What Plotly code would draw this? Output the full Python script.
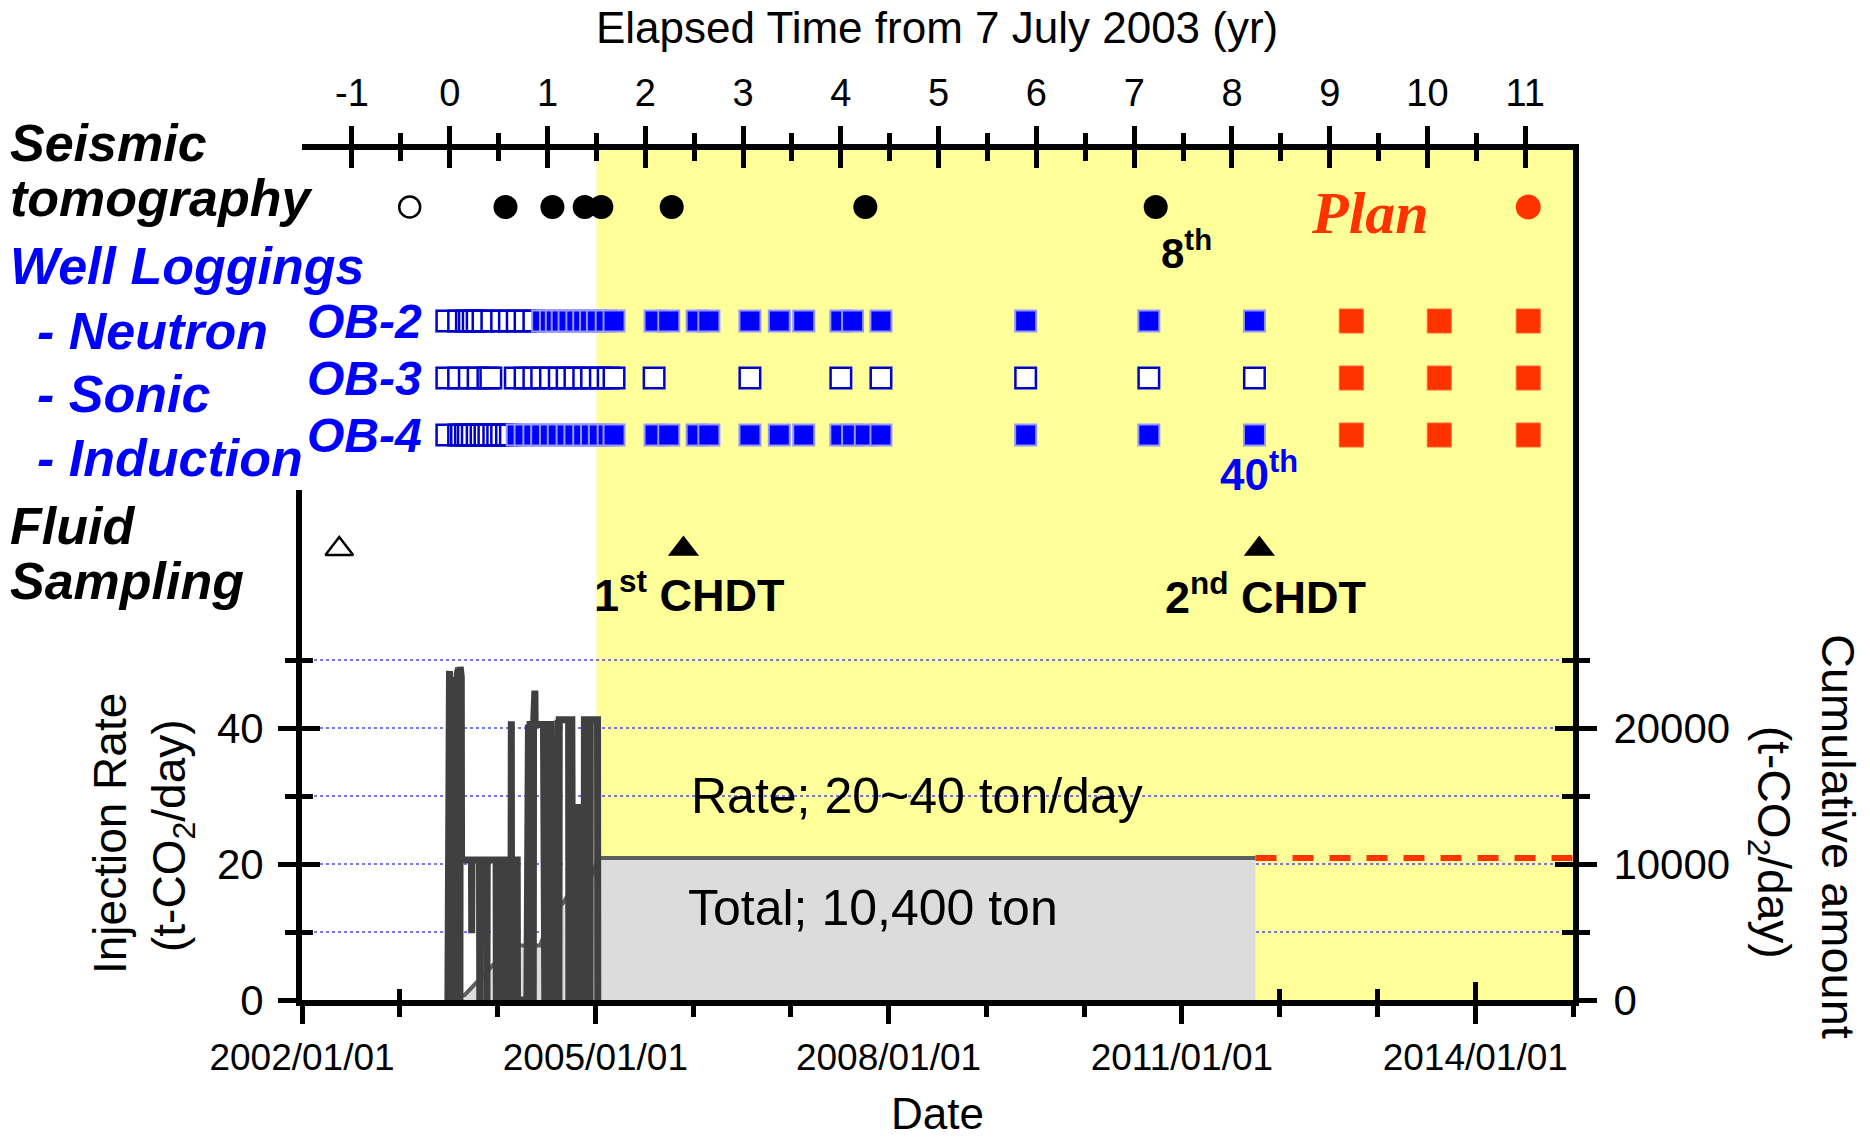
import plotly.graph_objects as go
from datetime import date

# ---------------------------------------------------------------- data
T0 = date(2003, 7, 7)                    # origin of the "elapsed time" axis
X_START, X_END = date(2002, 1, 1), date(2015, 1, 1)

# elapsed years (from 7 July 2003) of each survey / event
SEISMIC_BASELINE = [-0.41]
SEISMIC_DONE = [0.57, 1.05, 1.38, 1.55, 2.27, 4.25, 7.22]
SEISMIC_PLAN = [11.03]

OB2_OPEN = [-0.03, 0.09, 0.17, 0.20, 0.24, 0.28, 0.34, 0.43, 0.53, 0.61, 0.69, 0.77, 0.86]
OB2_DONE = [0.95, 1.03, 1.09, 1.15, 1.22, 1.30, 1.37, 1.44, 1.51, 1.60, 1.68,
            2.10, 2.24, 2.53, 2.65, 3.07, 3.37, 3.62, 4.00, 4.12, 4.41, 5.89, 7.15, 8.23]
OB3_OPEN = [-0.03, 0.09, 0.20, 0.29, 0.39, 0.42, 0.67, 0.77, 0.86, 0.94, 1.03, 1.12,
            1.20, 1.28, 1.37, 1.45, 1.54, 1.62, 1.68, 2.09, 3.07, 4.00, 4.41, 5.89, 7.15, 8.23]
OB4_OPEN = [-0.03, 0.09, 0.12, 0.16, 0.19, 0.23, 0.28, 0.32, 0.36, 0.40, 0.45, 0.49, 0.53, 0.58, 0.62]
OB4_DONE = [0.69, 0.77, 0.86, 0.94, 1.03, 1.11, 1.20, 1.28, 1.37, 1.45, 1.53, 1.62, 1.68,
            2.10, 2.24, 2.53, 2.65, 3.07, 3.37, 3.62, 4.00, 4.12, 4.25, 4.41, 5.89, 7.15, 8.23]
LOG_PLAN = [9.22, 10.12, 11.03]

FLUID_BASELINE = [-1.13]
FLUID_CHDT = [2.39, 8.28]

# daily injection rate (t-CO2/day)
RATE_DATES = [
    "2003-06-30", "2003-07-01", "2003-07-06", "2003-07-07", "2003-07-11", "2003-07-12",
    "2003-07-17", "2003-07-18", "2003-07-23", "2003-07-24", "2003-07-29", "2003-07-30",
    "2003-08-03", "2003-08-04", "2003-08-09", "2003-08-10", "2003-08-14", "2003-08-15",
    "2003-08-19", "2003-08-20", "2003-09-26", "2003-09-27", "2003-09-28", "2003-10-26",
    "2003-10-27", "2003-10-28", "2003-11-22", "2003-11-23", "2003-11-24", "2003-12-27",
    "2003-12-28", "2003-12-29", "2004-01-12", "2004-01-13", "2004-01-14", "2004-01-21",
    "2004-01-22", "2004-01-23", "2004-01-30", "2004-01-31", "2004-02-01", "2004-02-08",
    "2004-02-09", "2004-02-10", "2004-02-21", "2004-02-22", "2004-02-23", "2004-02-28",
    "2004-02-29", "2004-03-06", "2004-03-07", "2004-03-08", "2004-03-15", "2004-03-16",
    # April - July 2004
    "2004-04-20", "2004-04-21", "2004-04-26", "2004-04-27", "2004-05-01", "2004-05-02",
    "2004-05-08", "2004-05-09", "2004-05-14", "2004-05-15", "2004-05-20", "2004-05-21",
    "2004-06-21", "2004-06-22", "2004-06-26", "2004-06-27", "2004-07-04", "2004-07-05",
    "2004-07-09", "2004-07-10", "2004-07-18", "2004-07-19",
    # August - November 2004
    "2004-07-31", "2004-08-01", "2004-08-08", "2004-08-09", "2004-08-14", "2004-08-15",
    "2004-08-18", "2004-08-19", "2004-09-23", "2004-09-24", "2004-09-28", "2004-09-29",
    "2004-10-05", "2004-10-06", "2004-10-20", "2004-10-21", "2004-10-25", "2004-10-26",
    "2004-11-08", "2004-11-09",
    # late 2004 - January 2005
    "2004-11-20", "2004-11-21", "2004-12-06", "2004-12-07", "2004-12-12", "2004-12-13",
    "2005-01-09", "2005-01-10",
]
RATE_VALUES = [
    0, 47.6, 48.4, 0, 0, 47.0,
    46.5, 0, 0, 47.5, 47.0, 0,
    0, 48.0, 48.8, 0, 0, 49.0,
    47.5, 20.6, 20.6, 9.8, 20.6, 20.6,
    0, 20.6, 20.6, 0, 20.6, 20.6,
    0, 20.6, 20.6, 0, 20.6, 20.6,
    0, 20.6, 20.6, 0, 20.6, 20.6,
    0, 20.6, 20.6, 41.0, 0, 0,
    20.6, 20.6, 0, 20.6, 20.6, 0,
    0, 40.5, 40.5, 0, 0, 40.5,
    40.5, 0, 0, 40.5, 45.5, 40.5,
    40.5, 0, 0, 40.5, 40.5, 0,
    0, 40.5, 40.5, 0,
    0, 20.3, 20.3, 41.2, 41.2, 0,
    0, 41.2, 41.2, 0, 0, 41.2,
    41.2, 28.3, 28.3, 0, 0, 28.3,
    28.3, 0,
    0, 41.2, 41.2, 0, 0, 41.2,
    41.2, 0,
]

# cumulative injected amount (t-CO2)
CUM_DATES = ["2003-07-01", "2003-09-01", "2004-01-10", "2004-03-18", "2004-06-08",
             "2004-07-27", "2004-09-03", "2004-10-10", "2004-11-10", "2004-12-20",
             "2005-01-12", "2011-10-03"]
CUM_TON = [0, 370, 3100, 4000, 4000, 6400, 7150, 8350, 9050, 9200, 10450, 10450]
PLAN_DATES = ["2011-10-03", "2015-01-01"]
PLAN_TON = [10450, 10450]

TOP_TICKS = list(range(-1, 12))
TOP_TICKTEXT = [str(v) for v in TOP_TICKS]
TOP_MINOR = [k + 0.5 for k in range(-1, 11)]
DATE_TICKS = ["2002-01-01", "2005-01-01", "2008-01-01", "2011-01-01", "2014-01-01"]
DATE_MINOR = [f"{y}-01-01" for y in range(2003, 2016) if f"{y}-01-01" not in DATE_TICKS]
RATE_TICKS, RATE_MINOR = [0, 20, 40], [10, 30, 50]
CUM_TICKS, CUM_MINOR = [0, 10000, 20000], [5000, 15000, 25000]
YELLOW_FROM = 1.5   # elapsed years

# ---------------------------------------------------------------- layout constants
W, H = 1870, 1142
ML, MR, MT, MB = 302, 297, 150, 142
PW, PH = W - ML - MR, H - MT - MB
LOW_TOP = 490                      # px where lower (injection) panel begins
LOW_FRAC = (H - MB - LOW_TOP) / PH
RATE_RANGE = [0, 75]
CUM_RANGE = [0, 75 * 500]
# row levels for the upper event rows
ROW = {"seis": 5, "ob2": 3, "ob3": 2, "ob4": 1, "fluid": -1.0}
ROW_PX1, ROW_STEP = 435, 57
ROW_RANGE = [1 - (H - MB - ROW_PX1) / ROW_STEP, 1 + (ROW_PX1 - MT) / ROW_STEP]


def yrs(d):
    return (d - T0).days / 365.25


T_RANGE = [yrs(X_START), yrs(X_END)]

FONT = "Liberation Sans, Arial, sans-serif"
SERIF = "Liberation Serif, Times New Roman, serif"
BLUE, RED, GRAY = "#0000FF", "#FF3300", "#404040"

fig = go.Figure()

# cumulative area
fig.add_trace(go.Scatter(x=CUM_DATES, y=CUM_TON, xaxis="x", yaxis="y", mode="lines",
                         fill="tozeroy", fillcolor="#DCDCDC",
                         line=dict(color="#5E5E5E", width=4), hoverinfo="skip", showlegend=False))
fig.add_trace(go.Scatter(x=PLAN_DATES, y=PLAN_TON, xaxis="x", yaxis="y", mode="lines",
                         line=dict(color=RED, width=6, dash="21px,16px"),
                         hoverinfo="skip", showlegend=False))
# injection rate
fig.add_trace(go.Scatter(x=RATE_DATES, y=RATE_VALUES, xaxis="x", yaxis="y2", mode="lines",
                         line=dict(color=GRAY, width=7), hoverinfo="skip", showlegend=False))


def mk(xs, level, symbol, size, color, lcolor, lwidth):
    fig.add_trace(go.Scatter(x=xs, y=[level] * len(xs), xaxis="x2", yaxis="y3", mode="markers",
                             marker=dict(symbol=symbol, size=size, color=color,
                                         line=dict(color=lcolor, width=lwidth)),
                             cliponaxis=False, hoverinfo="skip", showlegend=False))


LB = "rgba(150,150,255,1)"
mk(SEISMIC_BASELINE, ROW["seis"], "circle", 21, "white", "black", 2.5)
mk(SEISMIC_DONE, ROW["seis"], "circle", 24, "black", "black", 0)
mk(SEISMIC_PLAN, ROW["seis"], "circle", 25, RED, RED, 0)
mk(OB2_OPEN, ROW["ob2"], "square", 20.5, "white", "#0000CC", 2.5)
mk(OB2_DONE, ROW["ob2"], "square", 21, BLUE, LB, 2)
mk(OB3_OPEN, ROW["ob3"], "square", 20.5, "white", "#0000CC", 2.5)
mk(OB4_OPEN, ROW["ob4"], "square", 20.5, "white", "#0000CC", 2.5)
mk(OB4_DONE, ROW["ob4"], "square", 21, BLUE, LB, 2)
for lvl in ("ob2", "ob3", "ob4"):
    mk(LOG_PLAN, ROW[lvl], "square", 24, RED, "#FF6633", 1)
mk(FLUID_BASELINE, ROW["fluid"], "triangle-up", 24, "white", "black", 2.5)
mk(FLUID_CHDT, ROW["fluid"], "triangle-up", 27, "black", "black", 0)

# empty carriers for tick-only overlay axes
for xa, ya in (("x5", "y"), ("x", "y4"), ("x", "y5"), ("x4", "y3")):
    fig.add_trace(go.Scatter(x=[None], y=[None], xaxis=xa, yaxis=ya, mode="markers",
                             hoverinfo="skip", showlegend=False))

TK = dict(tickcolor="black", tickwidth=5)
GRID = dict(gridcolor="#7474FF", griddash="dot", gridwidth=2)

fig.update_layout(
    width=W, height=H, paper_bgcolor="white", plot_bgcolor="rgba(0,0,0,0)",
    margin=dict(l=ML, r=MR, t=MT, b=MB, autoexpand=False),
    hovermode=False, showlegend=False,
    font=dict(family=FONT, color="black"),
    xaxis=dict(type="date", domain=[0, 1], anchor="y", range=[str(X_START), str(X_END)],
               tickmode="array", tickvals=DATE_TICKS, tickformat="%Y/%m/%d",
               ticks="outside", ticklen=18, ticklabelstandoff=2, **TK,
               minor=dict(tickvals=DATE_MINOR, ticks="outside", ticklen=11, **TK),
               showline=True, linewidth=6, linecolor="black", showgrid=False, zeroline=False,
               tickfont=dict(size=37, family=FONT)),
    xaxis5=dict(type="date", overlaying="x", anchor="y", side="bottom",
                range=[str(X_START), str(X_END)], tickmode="array", tickvals=DATE_TICKS,
                ticks="inside", ticklen=18, **TK, layer="below traces",
                minor=dict(tickvals=DATE_MINOR, ticks="inside", ticklen=11, **TK),
                showticklabels=False, showline=False, showgrid=False, zeroline=False),
    xaxis2=dict(domain=[0, 1], anchor="y3", side="top", range=T_RANGE,
                tickmode="array", tickvals=TOP_TICKS, ticktext=TOP_TICKTEXT,
                ticks="outside", ticklen=18, **TK, ticklabelstandoff=5,
                minor=dict(tickvals=TOP_MINOR, ticks="outside", ticklen=11, **TK),
                showline=True, linewidth=6, linecolor="black", showgrid=False, zeroline=False,
                tickfont=dict(size=38, family=FONT)),
    xaxis4=dict(overlaying="x2", anchor="y3", side="top", range=T_RANGE,
                tickmode="array", tickvals=TOP_TICKS, ticks="inside", ticklen=18, **TK,
                minor=dict(tickvals=TOP_MINOR, ticks="inside", ticklen=11, **TK),
                showticklabels=False, showline=False, showgrid=False, zeroline=False),
    yaxis=dict(domain=[0, LOW_FRAC], anchor="x", side="right", range=CUM_RANGE,
               tickmode="array", tickvals=CUM_TICKS, tickformat="d",
               ticks="outside", ticklen=18, **TK, ticklabelstandoff=8,
               minor=dict(tickvals=CUM_MINOR, ticks="outside", ticklen=11, **TK,
                          showgrid=True, **GRID),
               showgrid=True, **GRID, showline=True, linewidth=6, linecolor="black",
               zeroline=False, tickfont=dict(size=42, family=FONT)),
    yaxis4=dict(overlaying="y", anchor="x", side="right", range=CUM_RANGE,
                tickmode="array", tickvals=CUM_TICKS, ticks="inside", ticklen=18, **TK,
                minor=dict(tickvals=CUM_MINOR, ticks="inside", ticklen=11, **TK),
                showticklabels=False, showline=False, showgrid=False, zeroline=False),
    yaxis2=dict(overlaying="y", anchor="x", side="left", range=RATE_RANGE,
                tickmode="array", tickvals=RATE_TICKS, ticks="outside", ticklen=18, **TK,
                ticklabelstandoff=6,
                minor=dict(tickvals=RATE_MINOR, ticks="outside", ticklen=11, **TK),
                showline=True, linewidth=6, linecolor="black", showgrid=False,
                zeroline=False, tickfont=dict(size=42, family=FONT)),
    yaxis5=dict(overlaying="y", anchor="x", side="left", range=RATE_RANGE,
                tickmode="array", tickvals=RATE_TICKS, ticks="inside", ticklen=18, **TK,
                minor=dict(tickvals=RATE_MINOR, ticks="inside", ticklen=11, **TK),
                showticklabels=False, showline=False, showgrid=False, zeroline=False),
    yaxis3=dict(domain=[0, 1], anchor="x2", side="right", range=ROW_RANGE,
                showline=True, linewidth=6, linecolor="black", ticks="",
                showticklabels=False, showgrid=False, zeroline=False),
)

fig.add_shape(type="rect", xref="x2", yref="paper", x0=YELLOW_FROM, x1=T_RANGE[1],
              y0=0, y1=1, fillcolor="#FFFF99", line=dict(width=0), layer="below")


def px_x(px):
    return (px - ML) / PW


def px_y(py):
    return (H - MB - py) / PH


def note(text, px, py, size, color="black", xanchor="center", family=FONT, angle=0):
    fig.add_annotation(text=text, x=px_x(px), y=px_y(py), xref="paper", yref="paper",
                       xanchor=xanchor, yanchor="middle", showarrow=False, textangle=angle,
                       font=dict(family=family, size=size, color=color))


def bi(s):
    return f"<b><i>{s}</i></b>"


note(bi("Seismic"), 8, 143, 52, xanchor="left")
note(bi("tomography"), 8, 198, 52, xanchor="left")
note(bi("Well Loggings"), 8, 266, 52, BLUE, xanchor="left")
note(bi("- Neutron"), 35, 331, 52, BLUE, xanchor="left")
note(bi("- Sonic"), 35, 394, 52, BLUE, xanchor="left")
note(bi("- Induction"), 35, 458, 52, BLUE, xanchor="left")
note(bi("Fluid"), 8, 526, 52, xanchor="left")
note(bi("Sampling"), 8, 581, 52, xanchor="left")

for name, lvl in (("OB-2", "ob2"), ("OB-3", "ob3"), ("OB-4", "ob4")):
    fig.add_annotation(text=bi(name), x=px_x(424), y=ROW[lvl], xref="paper", yref="y3",
                       xanchor="right", yanchor="middle", showarrow=False,
                       font=dict(family=FONT, size=48, color=BLUE))

note(bi("Plan"), 1370, 213, 60, RED, family=SERIF)
note("<b>8<sup>th</sup></b>", 1186, 250, 42)
note("<b>40<sup>th</sup></b>", 1259, 472, 44, BLUE)
note("<b>1<sup>st</sup> CHDT</b>", 689, 592, 45)
note("<b>2<sup>nd</sup> CHDT</b>", 1265, 594, 45)
note("Rate; 20~40 ton/day", 917, 796, 50)
note("Total; 10,400 ton", 873, 908, 50)
note("Elapsed Time from 7 July 2003 (yr)", 937, 28, 44)
note("Date", 937, 1113, 44)
note("Injection Rate", 110, 834, 46, angle=-90)
note("(t-CO<sub>2</sub>/day)", 172, 836, 46, angle=-90)
note("Cumulative amount", 1839, 836, 47, angle=90)
note("(t-CO<sub>2</sub>/day)", 1771, 842, 46, angle=90)

fig.write_html("out.html")
